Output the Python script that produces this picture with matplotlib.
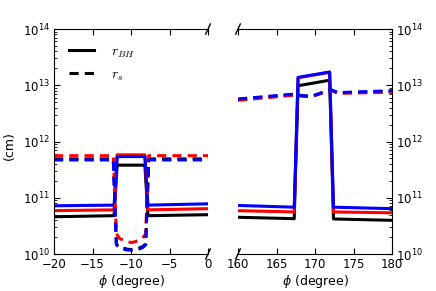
import matplotlib
matplotlib.use('Agg')
import matplotlib.pyplot as plt
import numpy as np

# left panel: phi from -20 to 0
phi_left_bh = [-20, -12.2, -11.8, -8.2, -7.8, 0]
rbh_left_k = [4.6e10, 4.8e10, 3.8e11, 3.8e11, 4.8e10, 5.0e10]
rbh_left_r = [5.9e10, 6.1e10, 5.8e11, 5.8e11, 6.1e10, 6.4e10]
rbh_left_b = [7.2e10, 7.4e10, 5.4e11, 5.4e11, 7.4e10, 7.8e10]

phi_left_s = [-20, -12.3, -11.9, -11.5, -11, -10.5, -10, -9.5, -9, -8.5, -8.1, -7.7, 0]
rs_left_k = [4.9e11, 4.9e11, 1.5e10, 1.35e10, 1.27e10, 1.22e10, 1.2e10, 1.22e10, 1.27e10, 1.35e10, 1.5e10, 4.9e11, 4.9e11]
rs_left_r = [5.6e11, 5.6e11, 2.3e10, 1.9e10, 1.75e10, 1.65e10, 1.6e10, 1.65e10, 1.75e10, 1.9e10, 2.3e10, 5.6e11, 5.6e11]
rs_left_b = [4.7e11, 4.7e11, 1.45e10, 1.3e10, 1.22e10, 1.18e10, 1.17e10, 1.18e10, 1.22e10, 1.3e10, 1.45e10, 4.7e11, 4.7e11]

# right panel: phi from 160 to 180
phi_right_bh = [160, 167.3, 167.8, 171.9, 172.4, 180]
rbh_right_k = [4.5e10, 4.25e10, 9.8e12, 1.23e13, 4.2e10, 3.97e10]
rbh_right_r = [5.9e10, 5.6e10, 1.36e13, 1.7e13, 5.6e10, 5.4e10]
rbh_right_b = [7.3e10, 6.8e10, 1.38e13, 1.72e13, 6.8e10, 6.4e10]

phi_right_s = [160, 167, 169.5, 172, 173, 180]
rs_right_k = [5.6e12, 6.8e12, 6.3e12, 8.3e12, 7.3e12, 7.8e12]
rs_right_r = [5.4e12, 6.6e12, 6.2e12, 8.2e12, 7.2e12, 7.5e12]
rs_right_b = [5.7e12, 6.9e12, 6.3e12, 8.4e12, 7.4e12, 8.0e12]

fig = plt.figure(figsize=(4.36, 2.91), dpi=100)
ax1 = fig.add_axes([0.1239, 0.1271, 0.3532, 0.7732])
ax2 = fig.add_axes([0.5459, 0.1271, 0.3532, 0.7732])

lw = 2.2
for ax, xb, bh, xs, rs in [
    (ax1, phi_left_bh, [rbh_left_k, rbh_left_r, rbh_left_b], phi_left_s, [rs_left_k, rs_left_r, rs_left_b]),
    (ax2, phi_right_bh, [rbh_right_k, rbh_right_r, rbh_right_b], phi_right_s, [rs_right_k, rs_right_r, rs_right_b]),
]:
    for y, c in zip(bh, ['k', 'r', 'b']):
        ax.plot(xb, y, '-', color=c, lw=lw)
    for y, c in zip(rs, ['k', 'r', 'b']):
        ax.plot(xs, y, '--', color=c, lw=lw, dashes=(3, 2))
    ax.set_yscale('log')
    ax.set_ylim(1e10, 1e14)
    ax.set_xlabel(r'$\phi$ (degree)', fontsize=9, labelpad=1)
    ax.tick_params(which='both', direction='in', top=True, labelsize=8.5, pad=3)
    ax.tick_params(which='major', length=4)
    ax.tick_params(which='minor', length=2)

ax1.set_xlim(-20, 0)
ax1.set_xticks([-20, -15, -10, -5, 0])
ax1.spines['right'].set_visible(False)
ax1.tick_params(which='both', right=False)
ax1.set_ylabel('(cm)', fontsize=9)
ax1.yaxis.set_label_coords(-0.245, 0.48)

ax2.set_xlim(160, 180)
ax2.set_xticks([160, 165, 170, 175, 180])
ax2.spines['left'].set_visible(False)
ax2.yaxis.tick_right()
ax2.tick_params(which='both', left=False, direction='in')

# legend
h1, = ax1.plot([], [], 'k-', lw=lw)
h2, = ax1.plot([], [], 'k--', lw=lw, dashes=(3, 2))
ax1.legend([h1, h2], [r'$r_{BH}$', r'$r_s$'], loc='upper left', frameon=False,
           prop={'size': 10, 'math_fontfamily': 'cm'}, handlelength=1.8,
           handletextpad=1.2, borderaxespad=0.7, labelspacing=0.55)

# break marks
d = 0.015
kw = dict(color='k', clip_on=False, lw=1)
ax1.plot((1 - d, 1 + d), (-d * 1.5, d * 1.5), transform=ax1.transAxes, **kw)
ax1.plot((1 - d, 1 + d), (1 - d * 1.5, 1 + d * 1.5), transform=ax1.transAxes, **kw)
ax2.plot((-d, d), (-d * 1.5, d * 1.5), transform=ax2.transAxes, **kw)
ax2.plot((-d, d), (1 - d * 1.5, 1 + d * 1.5), transform=ax2.transAxes, **kw)

fig.savefig('out.png', dpi=100)
